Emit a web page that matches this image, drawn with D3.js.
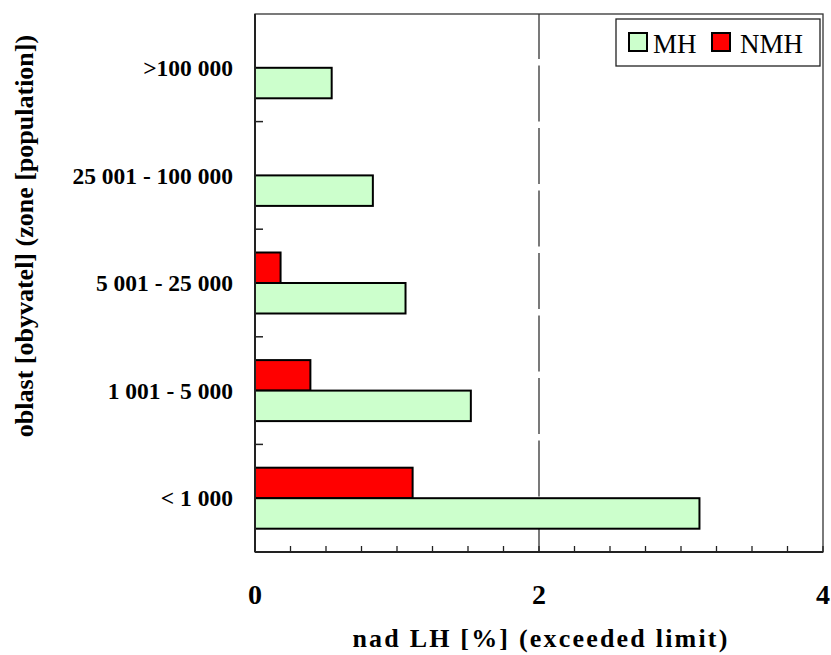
<!DOCTYPE html>
<html>
<head>
<meta charset="utf-8">
<script src="https://cdn.jsdelivr.net/npm/d3@7/dist/d3.min.js"></script>
<style>
  html, body { margin: 0; padding: 0; background: #fff; }
  svg { display: block; font-family: "Liberation Serif", "Times New Roman", serif; }
</style>
</head>
<body>
<svg id="chart" width="831" height="655"></svg>
<script>
// Zones by population, listed top to bottom
const categories = [">100 000", "25 001 - 100 000", "5 001 - 25 000", "1 001 - 5 000", "< 1 000"];
// Share above the limit [%]
const seriesNames = ["NMH", "MH"];
const mhValues  = [0.54, 0.83, 1.06, 1.52, 3.13];
const nmhValues = [0, 0, 0.18, 0.39, 1.11];
const xTicks = [0, 2, 4];
const xMinorTicks = d3.range(0, 4.001, 0.25);
const refLine = 2;
const colors = { MH: "#ccffcc", NMH: "#ff0000" };

const svg = d3.select("#chart");
const plot = { left: 255, right: 823, top: 14, bottom: 552 };

const x = d3.scaleLinear().domain([0, 4]).range([plot.left, plot.right]);
const y = d3.scaleBand().domain(categories).range([plot.top, plot.bottom]).padding(0);
const ySub = d3.scaleBand().domain(seriesNames).range([0, y.bandwidth()])
  .paddingInner(0).paddingOuter(0.764);

// frame (top and right edges)
svg.append("rect")
  .attr("x", plot.left).attr("y", plot.top)
  .attr("width", plot.right - plot.left).attr("height", plot.bottom - plot.top)
  .attr("fill", "none").attr("stroke", "#333").attr("stroke-width", 1.3);

// dashed reference line at 2 %
svg.append("line")
  .attr("x1", x(refLine)).attr("x2", x(refLine))
  .attr("y1", plot.top).attr("y2", plot.bottom)
  .attr("stroke", "#333").attr("stroke-width", 1.3)
  .attr("stroke-dasharray", "56,6.5").attr("stroke-dashoffset", 11);

// bars
const rows = categories.map((c, i) => ({ cat: c, MH: mhValues[i], NMH: nmhValues[i] }));
const groups = svg.append("g").selectAll("g").data(rows).join("g")
  .attr("transform", d => `translate(0,${y(d.cat)})`);
groups.selectAll("rect")
  .data(d => seriesNames.map(s => ({ s, v: d[s] })).filter(e => e.v > 0))
  .join("rect")
  .attr("x", x(0))
  .attr("y", e => ySub(e.s))
  .attr("width", e => x(e.v) - x(0))
  .attr("height", ySub.bandwidth())
  .attr("fill", e => colors[e.s])
  .attr("stroke", "#000").attr("stroke-width", 2);

// left axis with category boundary ticks pointing inward
const leftAxis = svg.append("g");
leftAxis.append("line")
  .attr("x1", plot.left).attr("x2", plot.left)
  .attr("y1", plot.top).attr("y2", plot.bottom)
  .attr("stroke", "#222").attr("stroke-width", 2);
leftAxis.selectAll("line.tick").data(categories.slice(1)).join("line")
  .attr("class", "tick")
  .attr("x1", plot.left).attr("x2", plot.left + 8)
  .attr("y1", d => y(d)).attr("y2", d => y(d))
  .attr("stroke", "#222").attr("stroke-width", 1.5);
leftAxis.selectAll("text").data(categories).join("text")
  .attr("x", 233)
  .attr("y", d => y(d) + y.bandwidth() / 2)
  .attr("dy", "0.35em")
  .attr("text-anchor", "end")
  .attr("font-weight", "bold")
  .attr("font-size", 23.5)
  .text(d => d);

// bottom axis with minor ticks pointing inward
const bottomAxis = svg.append("g");
bottomAxis.append("line")
  .attr("x1", plot.left).attr("x2", plot.right)
  .attr("y1", plot.bottom).attr("y2", plot.bottom)
  .attr("stroke", "#222").attr("stroke-width", 2);
bottomAxis.selectAll("line.tick").data(xMinorTicks).join("line")
  .attr("class", "tick")
  .attr("x1", d => x(d)).attr("x2", d => x(d))
  .attr("y1", plot.bottom).attr("y2", plot.bottom - 6)
  .attr("stroke", "#222").attr("stroke-width", 1.3);
bottomAxis.selectAll("text").data(xTicks).join("text")
  .attr("x", d => x(d))
  .attr("y", 604)
  .attr("text-anchor", "middle")
  .attr("font-weight", "bold")
  .attr("font-size", 28)
  .text(d => d);

// axis titles
svg.append("text")
  .attr("x", (plot.left + plot.right) / 2 + 2)
  .attr("y", 647)
  .attr("text-anchor", "middle")
  .attr("font-weight", "bold")
  .attr("font-size", 26)
  .attr("letter-spacing", 2.2)
  .text("nad LH [%] (exceeded limit)");

svg.append("text")
  .attr("transform", `translate(33,${236}) rotate(-90)`)
  .attr("text-anchor", "middle")
  .attr("font-weight", "bold")
  .attr("font-size", 26)
  .text("oblast [obyvatel] (zone [population])");

// legend
const legend = svg.append("g");
legend.append("rect")
  .attr("x", 616).attr("y", 19).attr("width", 204).attr("height", 47)
  .attr("fill", "#fff").attr("stroke", "#222").attr("stroke-width", 1.3);
const legendItems = [
  { s: "MH", sx: 629, tx: 653 },
  { s: "NMH", sx: 712, tx: 740 }
];
legendItems.forEach(it => {
  legend.append("rect")
    .attr("x", it.sx).attr("y", 33).attr("width", 18).attr("height", 18)
    .attr("fill", colors[it.s]).attr("stroke", "#000").attr("stroke-width", 2);
  legend.append("text")
    .attr("x", it.tx).attr("y", 53)
    .attr("font-size", 27)
    .text(it.s);
});
</script>
</body>
</html>
